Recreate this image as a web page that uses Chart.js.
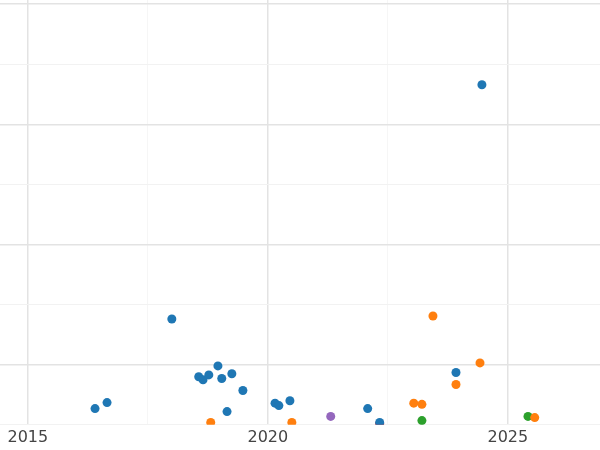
<!DOCTYPE html>
<html>
<head>
<meta charset="utf-8">
<script src="https://cdn.jsdelivr.net/npm/chart.js@4"></script>
<style>body{margin:0;background:#fff}</style>
</head>
<body>
<canvas id="c" width="600" height="450"></canvas>
<script>
// values
var blueX = [2016.40, 2016.65, 2018.00, 2018.56, 2018.65, 2018.77, 2018.96, 2019.04, 2019.15, 2019.25, 2019.48, 2020.15, 2020.23, 2020.46, 2022.08, 2022.33, 2023.92, 2024.46];
var blueY = [0.27, 0.37, 1.76, 0.80, 0.75, 0.83, 0.98, 0.77, 0.22, 0.85, 0.57, 0.36, 0.32, 0.40, 0.27, 0.04, 0.87, 5.66];
var orangeX = [2018.81, 2020.50, 2023.04, 2023.21, 2023.44, 2023.92, 2024.42, 2025.56];
var orangeY = [0.04, 0.04, 0.36, 0.34, 1.81, 0.67, 1.03, 0.12];
var greenX = [2023.21, 2025.42];
var greenY = [0.07, 0.14];
var redX = [2022.33];
var redY = [0.02];
var purpleX = [2021.31];
var purpleY = [0.14];
var xTicks = [2015, 2017.5, 2020, 2022.5, 2025];
var yTicks = [0, 1, 2, 3, 4, 5, 6, 7];

function pts(xs, ys) {
    return xs.map(function (x, i) { return { x: x, y: ys[i] }; });
}
function ds(xs, ys, color) {
    return { data: pts(xs, ys), backgroundColor: color, borderWidth: 0, pointRadius: 4.5, pointHoverRadius: 4.5 };
}

new Chart(document.getElementById('c').getContext('2d'), {
    type: 'scatter',
    data: {
        datasets: [
            ds(blueX, blueY, '#1f77b4'),
            ds(orangeX, orangeY, '#ff7f0e'),
            ds(greenX, greenY, '#2ca02c'),
            ds(redX, redY, '#d62728'),
            ds(purpleX, purpleY, '#9467bd')
        ]
    },
    options: {
        responsive: false,
        animation: false,
        layout: { padding: 0, autoPadding: false },
        plugins: { legend: { display: false }, tooltip: { enabled: false } },
        scales: {
            x: {
                min: 2014.42, max: 2026.92,
                afterBuildTicks: function (s) { s.ticks = xTicks.map(function (v) { return { value: v }; }); },
                border: { display: false },
                grid: {
                    drawTicks: false,
                    color: function (c) { return c.tick && c.tick.value % 5 === 0 ? '#e3e3e3' : '#f6f6f6'; },
                    lineWidth: function (c) { return c.tick && c.tick.value % 5 === 0 ? 1.5 : 1; }
                },
                ticks: {
                    padding: 3,
                    color: '#444',
                    font: { family: 'DejaVu Sans', size: 16 },
                    callback: function (v) { return v % 5 === 0 ? String(v) : ''; }
                }
            },
            y: {
                min: 0, max: 7.07,
                afterBuildTicks: function (s) { s.ticks = yTicks.map(function (v) { return { value: v }; }); },
                border: { display: false },
                grid: {
                    drawTicks: false,
                    color: function (c) { return c.tick && c.tick.value % 2 === 1 ? '#e3e3e3' : '#f2f2f2'; },
                    lineWidth: function (c) { return c.tick && c.tick.value % 2 === 1 ? 1.5 : 1; }
                },
                ticks: { display: false }
            }
        }
    }
});
</script>
</body>
</html>
